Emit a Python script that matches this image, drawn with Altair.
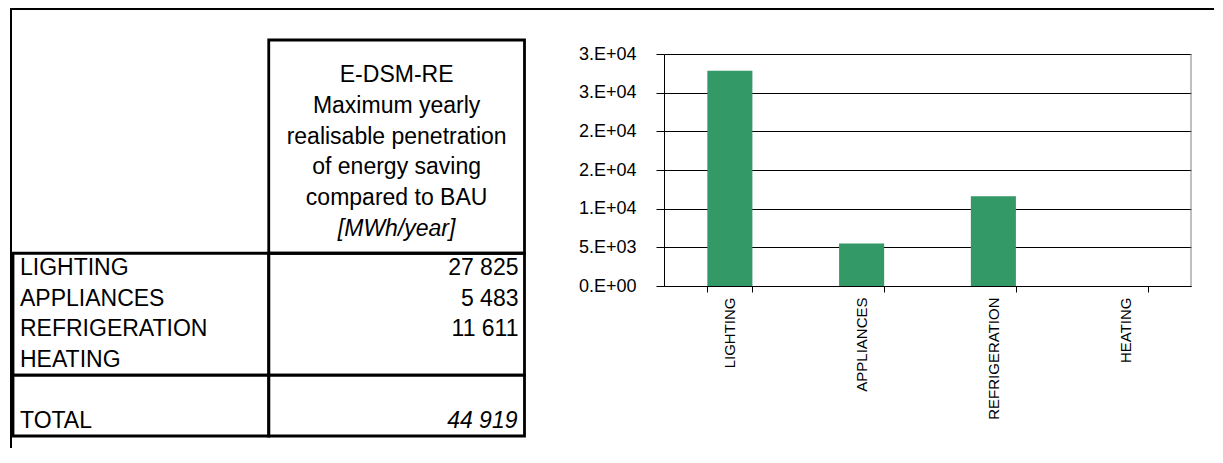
import altair as alt
import pandas as pd

# ---------------- data ----------------
categories = ["LIGHTING", "APPLIANCES", "REFRIGERATION", "HEATING"]
savings = [27825, 5483, 11611, None]          # MWh/year (HEATING empty)
total_saving = 44919
total_label = "TOTAL"
header_lines = ["E-DSM-RE", "Maximum yearly", "realisable penetration",
                "of energy saving", "compared to BAU"]
header_unit = "[MWh/year]"
y_ticks = [0, 5000, 10000, 15000, 20000, 25000, 30000]
y_tick_labels = ["0.E+00", "5.E+03", "1.E+04", "2.E+04", "2.E+04", "3.E+04", "3.E+04"]

FONT = "Liberation Sans"
GREEN = "#339966"


def fmt(v):
    return "" if v is None else f"{v:,}".replace(",", " ")


# ---------------- table panel ----------------
N_HEADER = 7
n = len(categories)
Y_MAX = N_HEADER + n + 2

xs = alt.Scale(domain=[0, 2], range=[5, 516.5])
ys = alt.Scale(domain=[0, Y_MAX], range=[32, 428])

rows_df = pd.DataFrame({
    "label": categories + [total_label],
    "value": [fmt(v) for v in savings] + [""],
    "row": [N_HEADER + 0.5 + i for i in range(n)] + [N_HEADER + n + 1.5],
    "c0": 0, "c2": 2,
})
total_df = pd.DataFrame({"value": [fmt(total_saving)], "row": [N_HEADER + n + 1.5], "c2": [2]})

head_df = pd.DataFrame({
    "text": header_lines,
    "row": [1.15 + 1.011 * i for i in range(len(header_lines))],
    "c": 1.5,
})
unit_df = pd.DataFrame({"text": [header_unit], "row": [1.15 + 1.011 * len(header_lines)], "c": [1.5]})

boxes_df = pd.DataFrame({
    "x": [1, 0, 1, 0, 1],
    "x2": [2, 1, 2, 1, 2],
    "y": [0, N_HEADER, N_HEADER, N_HEADER + n, N_HEADER + n],
    "y2": [N_HEADER, N_HEADER + n, N_HEADER + n, Y_MAX, Y_MAX],
})

boxes = alt.Chart(boxes_df).mark_rect(fill="transparent", stroke="black", strokeWidth=2.8).encode(
    x=alt.X("x:Q", scale=xs, axis=None), x2="x2:Q",
    y=alt.Y("y:Q", scale=ys, axis=None), y2="y2:Q",
)
labels = alt.Chart(rows_df).mark_text(align="left", baseline="middle", dx=7, fontSize=23,
                                      font=FONT, color="black").encode(
    x=alt.X("c0:Q", scale=xs, axis=None), y=alt.Y("row:Q", scale=ys, axis=None), text="label:N")
values = alt.Chart(rows_df).mark_text(align="right", baseline="middle", dx=-6, fontSize=23,
                                      font=FONT, color="black").encode(
    x=alt.X("c2:Q", scale=xs, axis=None), y=alt.Y("row:Q", scale=ys, axis=None), text="value:N")
total_txt = alt.Chart(total_df).mark_text(align="right", baseline="middle", dx=-7, fontSize=23,
                                          font=FONT, fontStyle="italic", color="black").encode(
    x=alt.X("c2:Q", scale=xs, axis=None), y=alt.Y("row:Q", scale=ys, axis=None), text="value:N")
head_txt = alt.Chart(head_df).mark_text(align="center", baseline="middle", fontSize=23,
                                        font=FONT, color="black").encode(
    x=alt.X("c:Q", scale=xs, axis=None), y=alt.Y("row:Q", scale=ys, axis=None), text="text:N")
unit_txt = alt.Chart(unit_df).mark_text(align="center", baseline="middle", fontSize=23,
                                        font=FONT, fontStyle="italic", color="black").encode(
    x=alt.X("c:Q", scale=xs, axis=None), y=alt.Y("row:Q", scale=ys, axis=None), text="text:N")

# outer frame (top and left edges; right/bottom lie outside the picture)
frame_df = pd.DataFrame({"k": [0]})
frame_top = alt.Chart(frame_df).mark_rect(color="black").encode(
    x=alt.value(2), x2=alt.value(1206), y=alt.value(0), y2=alt.value(2))
frame_left = alt.Chart(frame_df).mark_rect(color="black").encode(
    x=alt.value(2), x2=alt.value(4), y=alt.value(0), y2=alt.value(440))

table = alt.layer(boxes, labels, values, total_txt, head_txt, unit_txt, frame_top, frame_left).properties(
    width=540, height=440)

# ---------------- bar panel ----------------
label_expr = ""
for v, l in zip(y_ticks, y_tick_labels):
    label_expr += f"datum.value == {v} ? '{l}' : "
label_expr += "''"

bar_df = pd.DataFrame({"cat": categories, "v": savings})

xb = alt.X("cat:N", sort=categories,
           scale=alt.Scale(domain=categories, paddingInner=0.658, paddingOuter=0.329),
           axis=alt.Axis(title=None, labelAngle=270, labelFontSize=15, labelFont=FONT,
                         labelColor="black", labelPadding=5, tickSize=6, tickColor="black",
                         domainColor="black", tickBand="extent", grid=False, labelOverlap=False))
yb = alt.Y("v:Q", scale=alt.Scale(domain=[0, 30000], range=[278, 46], nice=False, zero=True),
           axis=alt.Axis(title=None, values=y_ticks, labelExpr=label_expr, labelFontSize=18,
                         labelFont=FONT, labelColor="black", labelPadding=20, tickSize=8,
                         tickColor="black", domainColor="black", grid=True, gridColor="black",
                         gridOpacity=1, gridWidth=1))

bars = alt.Chart(bar_df).mark_bar(color=GREEN).encode(x=xb, y=yb)
right_border = alt.Chart(frame_df).mark_rule(color="#808080", strokeWidth=1).encode(
    x=alt.value(527), y=alt.Y(datum=0), y2=alt.Y2(datum=30000))

bar_chart = alt.layer(bars, right_border).properties(width=527, height=278)

chart = alt.hconcat(table, bar_chart, spacing=116).properties(
    bounds="flush", padding=0, background="white"
).configure_view(strokeWidth=0)

chart.save("out.html", embed_options={"renderer": "svg", "actions": False})
